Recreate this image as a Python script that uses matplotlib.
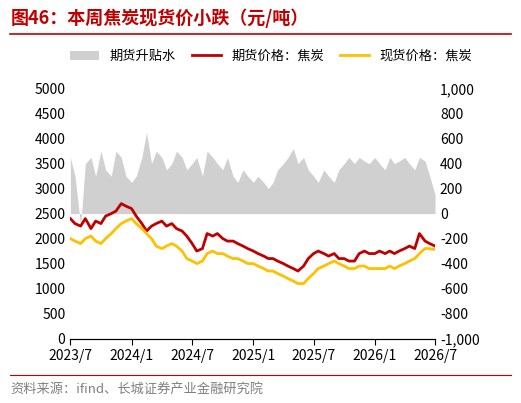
import matplotlib
matplotlib.use("Agg")
import matplotlib.pyplot as plt
import pandas as pd

plt.rcParams['font.family'] = ['Noto Sans CJK SC', 'DejaVu Sans']

dates = pd.date_range("2023-07-01", "2026-07-01", freq="SMS")
futures = [2400,2300, 2250,2400, 2200,2350, 2300,2450, 2500,2550, 2700,2650,
           2600,2450, 2300,2150, 2250,2300, 2350,2250, 2300,2200, 2150,2050,
           1900,1750, 1800,2100, 2050,2100, 2000,1950, 1950,1900, 1850,1800,
           1750,1700, 1650,1600, 1600,1550, 1500,1450, 1400,1350, 1450,1600,
           1700,1750, 1700,1650, 1700,1600, 1600,1550, 1550,1700, 1750,1700,
           1700,1750, 1700,1750, 1700,1750, 1800,1850, 1800,2100, 1950,1900, 1850]
spot = [2000,1950, 1900,2000, 2050,1950, 1900,2000, 2100,2200, 2300,2350,
        2400,2300, 2200,2100, 2000,1850, 1800,1850, 1900,1850, 1750,1600,
        1550,1500, 1550,1700, 1750,1700, 1700,1650, 1600,1600, 1550,1500,
        1500,1450, 1400,1350, 1350,1300, 1250,1200, 1150,1100, 1100,1200,
        1300,1400, 1450,1500, 1550,1500, 1450,1400, 1400,1450, 1450,1400,
        1400,1400, 1400,1450, 1400,1450, 1500,1550, 1600,1700, 1800,1800, 1780]
basis = [450,300, -100,400, 450,300, 500,350, 300,500, 450,300,
         250,300, 450,650, 400,500, 450,350, 400,500, 450,350,
         400,450, 300,500, 450,400, 350,450, 300,250, 350,300,
         250,300, 250,200, 250,350, 400,450, 520,400, 450,350,
         300,250, 350,300, 250,350, 400,450, 400,450, 420,400,
         450,400, 350,450, 400,420, 450,400, 350,450, 420,300, 150]

fig = plt.figure(figsize=(5.21, 4.03), dpi=100)
ax = fig.add_axes([0.135, 0.16, 0.70, 0.62])
ax2 = ax.twinx()
ax.set_zorder(ax2.get_zorder() + 1)
ax.patch.set_visible(False)

ax2.fill_between(dates, 0, basis, color='#d0d0d0', lw=0, label='期货升贴水')
ax2.set_ylim(-1000, 1000)
ax2.set_yticks(range(-1000, 1001, 200))
ax2.yaxis.set_major_formatter(matplotlib.ticker.FuncFormatter(lambda v, p: f"{int(v):,}"))

ax.plot(dates, futures, color='#c00000', lw=2, label='期货价格：焦炭')
ax.plot(dates, spot, color='#ffc000', lw=2, label='现货价格：焦炭')
ax.set_ylim(0, 5000)
ax.set_yticks(range(0, 5001, 500))
ax.set_xlim(pd.Timestamp("2023-07-01"), pd.Timestamp("2026-07-01"))
ticks = pd.to_datetime(["2023-07-01","2024-01-01","2024-07-01","2025-01-01","2025-07-01","2026-01-01","2026-07-01"])
ax.set_xticks(ticks)
ax.set_xticklabels(["2023/7","2024/1","2024/7","2025/1","2025/7","2026/1","2026/7"])
for a in (ax, ax2):
    for s in ['top', 'left', 'right']:
        a.spines[s].set_visible(False)
    a.tick_params(labelsize=10, length=0)
ax.tick_params(axis='x', length=4, direction='out')

h1, l1 = ax2.get_legend_handles_labels()
h2, l2 = ax.get_legend_handles_labels()
fig.legend(h1 + h2, l1 + l2, loc='center', bbox_to_anchor=(0.52, 0.86), ncol=3,
           frameon=False, fontsize=9.5, handlelength=2.2, columnspacing=1.2)

fig.text(0.02, 0.955, "图46：本周焦炭现货价小跌（元/吨）", color='#c00000', fontsize=13,
         fontweight='bold', style='italic', va='center')
fig.add_artist(plt.Line2D([0.02, 0.98], [0.915, 0.915], color='#c00000', lw=1.2))
fig.add_artist(plt.Line2D([0.02, 0.98], [0.07, 0.07], color='#c00000', lw=0.8))
fig.text(0.02, 0.035, "资料来源：ifind、长城证券产业金融研究院", color='#808080', fontsize=9.5,
         style='italic', va='center')
fig.savefig("out.png", dpi=100)
